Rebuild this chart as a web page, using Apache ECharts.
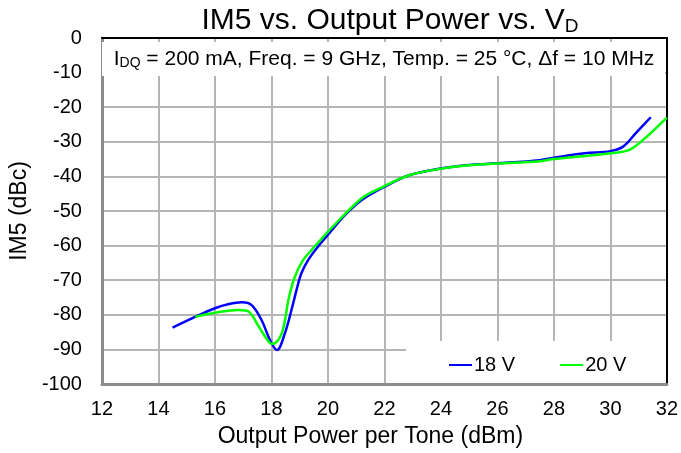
<!DOCTYPE html>
<html>
<head>
<meta charset="utf-8">
<script src="https://cdn.jsdelivr.net/npm/echarts@6/dist/echarts.min.js"></script>
<style>
  html, body { margin: 0; padding: 0; background: #fff; }
  #chart { width: 681px; height: 453px; }
</style>
</head>
<body>
<div id="chart"></div>
<script>
// IM5 vs. output power per tone, for two drain voltages
var vd18Power = [14.5, 15.3, 16.0, 16.5, 16.95, 17.3, 17.65, 17.95, 18.2, 18.48, 18.71, 18.89, 19.06, 19.3, 19.65, 20.0, 20.6, 21.2, 22.0, 22.9, 24.0, 25.0, 26.0, 27.5, 28.0, 29.1, 30.0, 30.45, 30.9, 31.43];
var vd18Im5 =   [-83.7, -80.6, -78.1, -76.9, -76.4, -77.2, -81.5, -87.3, -90.2, -85.3, -78.6, -72.8, -68.0, -64.2, -60.3, -56.9, -51.2, -46.8, -43.0, -39.6, -37.7, -36.7, -36.2, -35.3, -34.6, -33.3, -32.7, -31.4, -27.5, -22.9];

var vd20Power = [15.3, 16.0, 16.84, 17.2, 17.55, 17.95, 18.05, 18.37, 18.62, 18.83, 19.12, 19.42, 20.0, 21.2, 22.0, 22.9, 24.0, 25.0, 26.0, 27.5, 28.0, 29.1, 30.0, 30.65, 31.15, 32.0];
var vd20Im5 =   [-80.6, -79.4, -78.6, -79.1, -83.4, -88.2, -88.4, -85.3, -75.0, -69.0, -64.2, -61.3, -56.0, -46.3, -42.8, -39.6, -37.8, -36.8, -36.3, -35.6, -35.0, -34.1, -33.3, -32.4, -29.5, -23.0];

var seriesNames = ['18 V', '20 V'];
var seriesColors = ['#0000ff', '#00ff00'];

var xMin = 12, xMax = 32, xStep = 2;
var yMin = -100, yMax = 0, yStep = 10;

function pairs(xs, ys) {
  return xs.map(function (x, i) { return [x, ys[i]]; });
}

var FONT = '"Liberation Sans", Arial, sans-serif';
var chart = echarts.init(document.getElementById('chart'), null, { renderer: 'canvas' });

var grid = { left: 99, right: 13, top: 38, bottom: 69 };

chart.setOption({
  animation: false,
  backgroundColor: '#ffffff',
  textStyle: { fontFamily: FONT },
  title: [{
    text: 'IM5 vs. Output Power vs. V{sub|D}',
    left: 385,
    top: 0,
    textAlign: 'center',
    textStyle: {
      fontFamily: FONT,
      fontSize: 30,
      fontWeight: 'normal',
      color: '#000',
      rich: {
        sub: { fontFamily: FONT, fontSize: 19, verticalAlign: 'bottom', padding: [12, 0, 0, 0], color: '#000' }
      }
    }
  }],
  grid: grid,
  legend: {
    data: seriesNames,
    left: 444,
    top: 350,
    icon: 'rect',
    itemWidth: 23,
    itemHeight: 2,
    itemGap: 45,
    textStyle: { fontFamily: FONT, fontSize: 20, color: '#000', padding: [0, 0, 0, -3] }
  },
  xAxis: [{
    type: 'value',
    min: xMin, max: xMax, interval: xStep,
    name: 'Output Power per Tone (dBm)',
    nameLocation: 'middle',
    nameGap: 41,
    nameTextStyle: { fontFamily: FONT, fontSize: 23, color: '#000', padding: [0, 28, 0, 0] },
    axisLine: { show: true, onZero: false, lineStyle: { color: '#8c8c8c', width: 3 } },
    axisTick: { show: false },
    axisLabel: { fontFamily: FONT, fontSize: 20, color: '#000', margin: 15 },
    splitLine: { show: true, lineStyle: { color: '#b5b5b5', width: 2 } }
  }, {
    type: 'value',
    position: 'top',
    min: xMin, max: xMax, interval: xStep,
    axisLine: { show: true, onZero: false, lineStyle: { color: '#000', width: 2 } },
    axisTick: { show: false },
    axisLabel: { show: false },
    splitLine: { show: false }
  }],
  yAxis: [{
    type: 'value',
    min: yMin, max: yMax, interval: yStep,
    name: 'IM5 (dBc)',
    nameLocation: 'middle',
    nameGap: 70,
    nameTextStyle: { fontFamily: FONT, fontSize: 23, color: '#000' },
    axisLine: { show: true, onZero: false, lineStyle: { color: '#8c8c8c', width: 3 } },
    axisTick: { show: false },
    axisLabel: { fontFamily: FONT, fontSize: 20, color: '#000', margin: 20 },
    splitLine: { show: true, lineStyle: { color: '#b5b5b5', width: 2 } }
  }, {
    type: 'value',
    position: 'right',
    min: yMin, max: yMax, interval: yStep,
    axisLine: { show: true, onZero: false, lineStyle: { color: '#000', width: 2 } },
    axisTick: { show: false },
    axisLabel: { show: false },
    splitLine: { show: false }
  }],
  graphic: [
    // conditions box across the top of the plot
    {
      type: 'rect',
      z: 1,
      shape: { x: 102, y: 42, width: 563, height: 34 },
      style: { fill: '#ffffff' }
    },
    {
      type: 'text',
      z: 2,
      x: 384,
      y: 59,
      style: {
        text: 'I{sub|DQ} = 200 mA, Freq. = 9 GHz, Temp. = 25 °C, Δf = 10 MHz',
        fontFamily: FONT,
        fontSize: 21,
        fill: '#000',
        align: 'center',
        verticalAlign: 'middle',
        rich: {
          sub: { fontFamily: FONT, fontSize: 14, fill: '#000', verticalAlign: 'bottom', padding: [9, 0, 0, 0] }
        }
      }
    },
    // white backing behind the legend
    {
      type: 'rect',
      z: 1,
      shape: { x: 406, y: 341, width: 260, height: 42 },
      style: { fill: '#ffffff' }
    }
  ],
  series: [{
    name: seriesNames[0],
    type: 'line',
    data: pairs(vd18Power, vd18Im5),
    smooth: 0.35,
    symbol: 'none',
    z: 3,
    lineStyle: { color: seriesColors[0], width: 2.5 },
    itemStyle: { color: seriesColors[0] }
  }, {
    name: seriesNames[1],
    type: 'line',
    data: pairs(vd20Power, vd20Im5),
    smooth: 0.35,
    symbol: 'none',
    z: 4,
    lineStyle: { color: seriesColors[1], width: 2.5 },
    itemStyle: { color: seriesColors[1] }
  }]
});
</script>
</body>
</html>
